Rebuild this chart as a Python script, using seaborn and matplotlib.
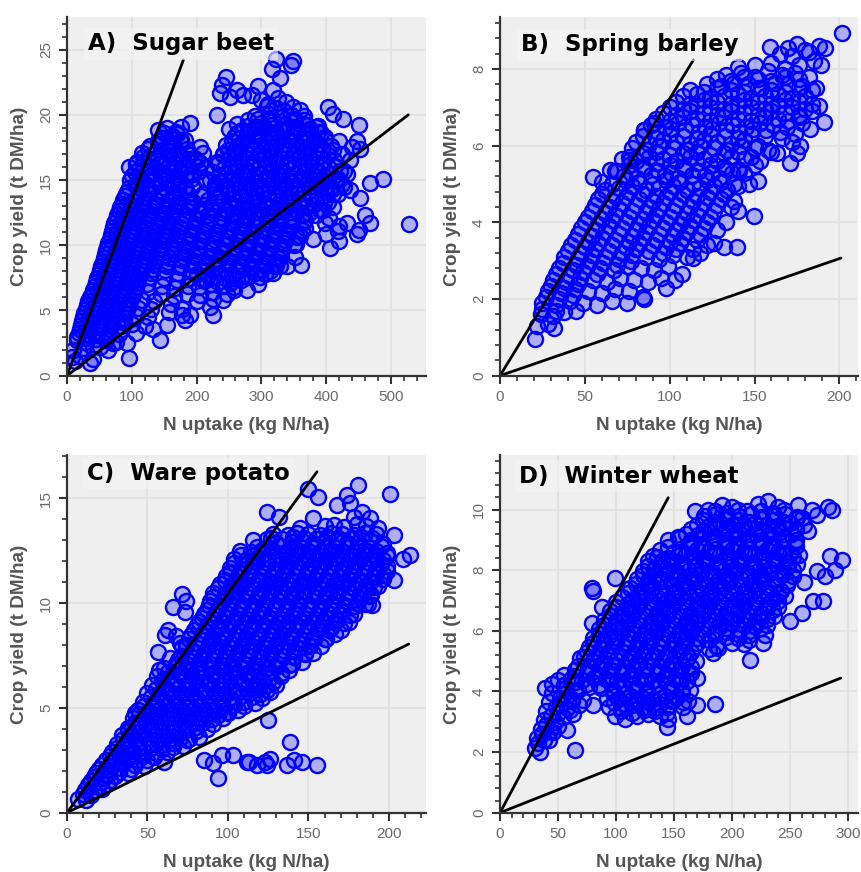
import matplotlib
matplotlib.use("Agg")
import matplotlib.pyplot as plt
import numpy as np
import pandas as pd
import seaborn as sns
from matplotlib.ticker import MultipleLocator

# ---------------- data ----------------
# Each panel: scattered/edge points plus the densely overplotted core of the cloud.
sugar_beet_n = [
    323, 349, 345, 316, 329, 246,
    239, 295, 236, 262, 272, 285, 252, 318,
    300, 325, 338, 310,
    308, 322, 349, 360, 403, 335,
    231, 290, 312, 330, 345, 365, 411, 426,
    190, 176, 262, 280, 300, 318, 336, 352, 370, 385, 450,
    141, 154, 168, 250, 270, 288, 305, 322, 340, 357, 375, 392,
    147, 162, 182, 258, 276, 294, 312, 330, 347, 364, 381, 398, 420, 447,
    128, 143, 158, 176, 205, 245, 263, 281, 299, 317, 335, 353, 371, 389, 408, 440,
    115, 135, 155, 172, 190, 210, 240, 258, 276, 294, 312, 330, 348, 366, 384, 402, 425, 452,
    108, 125, 145, 165, 185, 200, 232, 250, 268, 286, 304, 322, 340, 358, 376, 394, 412, 437,
    96, 118, 136, 156, 176, 195, 215, 242, 260, 278, 296, 314, 332, 350, 368, 386, 404, 428,
    100, 112, 130, 150, 170, 190, 215, 235, 253, 271, 289, 307, 325, 343, 361, 379, 397, 415, 432, 487,
    106, 124, 144, 162, 182, 228, 246, 264, 282, 300, 318, 336, 354, 372, 390, 408, 424, 468,
    92, 110, 128, 146, 164, 184, 210, 238, 256, 274, 292, 310, 328, 346, 364, 382, 400, 418, 437,
    87, 104, 120, 138, 156, 175, 195, 218, 240, 258, 276, 294, 312, 330, 348, 366, 384, 402, 452,
    82, 98, 115, 132, 150, 168, 186, 205, 224, 244, 262, 280, 298, 316, 334, 352, 370, 390, 410,
    77, 93, 110, 127, 145, 163, 182, 200, 218, 238, 256, 274, 292, 310, 328, 346, 364, 385, 404, 460,
    72, 88, 105, 122, 140, 158, 176, 196, 216, 236, 254, 272, 290, 308, 326, 344, 365, 398, 420, 432, 467, 528,
    70, 85, 101, 118, 136, 154, 172, 192, 212, 232, 250, 268, 286, 304, 322, 340, 362, 400, 418, 447, 450,
    66, 82, 98, 115, 132, 150, 168, 188, 208, 228, 246, 264, 282, 300, 318, 336, 355, 380, 419,
    62, 78, 94, 110, 127, 145, 163, 183, 203, 223, 242, 260, 278, 296, 314, 332, 350, 406,
    58, 74, 90, 106, 122, 140, 160, 180, 200, 220, 238, 256, 274, 292, 310, 330, 352,
    55, 70, 86, 102, 118, 136, 156, 176, 196, 214, 232, 250, 268, 286, 304, 322, 340, 361,
    51, 66, 82, 98, 114, 132, 152, 172, 192, 210, 228, 246, 264, 282, 300, 318, 329,
    47, 62, 78, 94, 110, 128, 150, 170, 190, 208, 226, 244, 262, 280, 298, 313,
    43, 58, 74, 90, 106, 124, 146, 166, 186, 204, 222, 240, 258, 277, 294,
    38, 54, 70, 86, 102, 125, 145, 165, 185, 205, 225, 247, 257,
    33, 48, 64, 80, 96, 115, 135, 160, 200, 221, 226, 240,
    29, 44, 60, 76, 92, 110, 130, 158, 178,
    25, 40, 56, 72, 88, 106, 125, 177, 190, 182, 226,
    22, 36, 52, 68, 84, 100, 120, 154, 133,
    18, 32, 48, 64, 80, 107,
    15, 28, 44, 60, 76, 92, 143, 71,
    10, 24, 40, 51, 64,
    8, 20, 40,
    12, 36, 95,
]
sugar_beet_yield = [
    24.3, 24.1, 23.8, 23.5, 22.8, 22.9,
    22.3, 22.2, 21.7, 21.9, 21.5, 21.5, 21.4, 21.9,
    21.1, 21.3, 21.0, 20.8,
    20.7, 20.5, 20.6, 20.4, 20.6, 20.3,
    20.0, 19.9, 20.1, 19.8, 20.0, 19.9, 20.1, 19.7,
    19.4, 19.1, 19.3, 19.6, 19.4, 19.5, 19.3, 19.6, 19.2, 19.1, 19.2,
    18.8, 19.0, 18.7, 18.9, 18.8, 19.0, 18.9, 18.7, 19.0, 18.8, 18.9, 18.6,
    18.2, 18.4, 18.1, 18.3, 18.2, 18.4, 18.3, 18.2, 18.4, 18.3, 18.1, 18.3, 18.0, 18.0,
    17.6, 17.8, 17.7, 17.9, 17.5, 17.7, 17.6, 17.8, 17.7, 17.6, 17.8, 17.7, 17.5, 17.8, 17.6, 17.5,
    17.1, 17.0, 17.2, 17.1, 16.9, 17.1, 17.0, 17.2, 17.1, 17.0, 17.2, 17.1, 17.0, 17.2, 17.1, 16.9, 17.0, 17.4,
    16.4, 16.6, 16.5, 16.4, 16.6, 16.5, 16.4, 16.6, 16.5, 16.4, 16.6, 16.5, 16.4, 16.6, 16.5, 16.3, 16.5, 16.5,
    16.0, 15.8, 15.9, 16.0, 15.8, 15.5, 15.9, 15.9, 16.0, 15.8, 15.9, 16.0, 15.8, 15.9, 16.0, 15.8, 15.9, 15.7,
    15.3, 15.2, 15.4, 15.3, 15.2, 15.4, 15.1, 15.3, 15.2, 15.4, 15.3, 15.2, 15.4, 15.3, 15.2, 15.4, 15.3, 15.1, 15.5, 15.1,
    14.7, 14.6, 14.8, 14.7, 14.5, 14.7, 14.6, 14.8, 14.7, 14.6, 14.8, 14.7, 14.6, 14.8, 14.7, 14.5, 14.7, 14.8,
    14.1, 14.0, 14.2, 14.1, 14.0, 14.2, 13.9, 14.1, 14.0, 14.2, 14.1, 14.0, 14.2, 14.1, 14.0, 14.2, 14.1, 13.9, 14.2,
    13.5, 13.4, 13.6, 13.5, 13.4, 13.6, 13.3, 13.5, 13.4, 13.6, 13.5, 13.4, 13.6, 13.5, 13.4, 13.6, 13.5, 13.3, 13.6,
    12.9, 12.8, 13.0, 12.9, 12.8, 13.0, 12.9, 12.7, 12.9, 12.8, 13.0, 12.9, 12.8, 13.0, 12.9, 12.8, 13.0, 12.7, 12.9,
    12.3, 12.2, 12.4, 12.3, 12.2, 12.4, 12.3, 12.1, 12.3, 12.2, 12.4, 12.3, 12.2, 12.4, 12.3, 12.2, 12.4, 12.3, 12.1, 12.3,
    11.7, 11.6, 11.8, 11.7, 11.6, 11.8, 11.7, 11.5, 11.7, 11.6, 11.8, 11.7, 11.6, 11.8, 11.7, 11.6, 11.8, 11.7, 11.5, 11.7, 11.7, 11.6,
    11.1, 11.0, 11.2, 11.1, 11.0, 11.2, 11.1, 10.9, 11.1, 11.0, 11.2, 11.1, 11.0, 11.2, 11.1, 11.0, 11.2, 10.9, 11.1, 10.9, 11.2,
    10.5, 10.4, 10.6, 10.5, 10.4, 10.6, 10.5, 10.3, 10.5, 10.4, 10.6, 10.5, 10.4, 10.6, 10.5, 10.4, 10.6, 10.5, 10.3,
    9.9, 9.8, 10.0, 9.9, 9.8, 10.0, 9.9, 9.7, 9.9, 9.8, 10.0, 9.9, 9.8, 10.0, 9.9, 9.8, 10.0, 9.8,
    9.3, 9.2, 9.4, 9.3, 9.2, 9.4, 9.3, 9.1, 9.3, 9.2, 9.4, 9.3, 9.2, 9.4, 9.3, 9.1, 9.1,
    8.7, 8.6, 8.8, 8.7, 8.6, 8.8, 8.7, 8.5, 8.7, 8.6, 8.8, 8.7, 8.6, 8.8, 8.7, 8.5, 8.4, 8.5,
    8.1, 8.0, 8.2, 8.1, 8.0, 8.2, 8.1, 7.9, 8.1, 8.0, 8.2, 8.1, 8.0, 8.2, 8.1, 7.9, 8.4,
    7.5, 7.4, 7.6, 7.5, 7.4, 7.6, 7.5, 7.3, 7.5, 7.4, 7.6, 7.5, 7.4, 7.6, 7.6, 8.0,
    6.9, 6.8, 7.0, 6.9, 6.8, 7.0, 6.9, 6.7, 6.9, 6.8, 7.0, 6.9, 6.8, 6.6, 7.0,
    6.3, 6.2, 6.4, 6.3, 6.2, 6.4, 6.3, 6.1, 6.3, 6.2, 6.4, 6.3, 6.6,
    5.7, 5.6, 5.8, 5.7, 5.6, 5.8, 5.7, 5.5, 5.7, 5.3, 5.9, 5.8,
    5.1, 5.0, 5.2, 5.1, 5.0, 5.2, 5.1, 4.9, 5.1,
    4.5, 4.4, 4.6, 4.5, 4.4, 4.6, 4.5, 4.65, 4.65, 4.3, 4.65,
    3.9, 3.8, 4.0, 3.9, 3.8, 4.0, 3.8, 3.9, 3.6,
    3.25, 3.2, 3.4, 3.3, 3.2, 3.25,
    2.7, 2.6, 2.8, 2.7, 2.6, 2.5, 2.7, 2.5,
    2.0, 2.1, 2.2, 2.2, 2.0,
    1.4, 1.5, 1.3,
    1.1, 0.95, 1.33,
]
sugar_beet_core_n = [
    294, 312, 330, 348, 366,
    279, 297, 315, 333, 351, 369, 387,
    150, 170, 262, 280, 298, 316, 334, 352, 370, 388,
    140, 158, 176, 254, 272, 290, 308, 326, 344, 362, 380, 398,
    125, 145, 165, 185, 249, 267, 285, 303, 321, 339, 357, 375, 393, 411,
    118, 138, 158, 178, 196, 241, 259, 277, 295, 313, 331, 349, 367, 385, 403,
    107, 127, 146, 166, 186, 206, 233, 251, 269, 287, 305, 323, 341, 359, 377, 395, 413,
    105, 124, 143, 163, 183, 204, 226, 244, 262, 280, 298, 316, 334, 352, 370, 388, 406, 422,
    97, 115, 134, 153, 172, 192, 220, 238, 256, 274, 292, 310, 328, 346, 364, 382, 400, 418,
    96, 114, 133, 152, 171, 193, 229, 247, 265, 283, 301, 319, 337, 355, 373, 391, 409, 427,
    90, 108, 126, 145, 164, 186, 207, 229, 249, 267, 285, 303, 321, 339, 357, 375, 393, 411,
    85, 101, 118, 136, 154, 172, 191, 212, 233, 253, 271, 289, 307, 325, 343, 361, 379, 397,
    80, 96, 113, 131, 149, 167, 186, 205, 225, 247, 265, 283, 301, 319, 337, 355, 374, 395,
    75, 91, 108, 126, 144, 162, 181, 200, 220, 241, 259, 277, 295, 313, 331, 349, 368,
    71, 87, 104, 121, 139, 157, 175, 195, 215, 236, 255, 273, 291, 309, 327, 345, 368,
    68, 84, 100, 117, 134, 152, 170, 190, 210, 230, 249, 267, 285, 303, 321, 339, 360,
    64, 80, 96, 112, 130, 148, 166, 186, 206, 226, 245, 263, 281, 299, 317, 335, 353,
    60, 76, 92, 108, 125, 143, 162, 182, 202, 222, 241, 259, 277, 295, 313, 331,
    57, 72, 88, 104, 120, 138, 158, 178, 198, 217, 235, 253, 271, 289, 307, 325,
    53, 68, 84, 100, 116, 134, 154, 174, 194, 212, 230, 248, 266, 284, 302, 320,
    49, 64, 80, 96, 112, 130, 200, 218, 236, 254, 272, 290, 306,
    45, 60, 76, 92, 108, 215, 233, 251, 269,
    40, 56, 72, 88, 104,
    36, 51, 67, 83, 99,
    31, 46, 62, 78, 94,
    27, 42, 58, 74, 90,
    23, 38, 54, 70, 86,
    20, 34, 50, 66,
    16, 30, 46, 62,
]
sugar_beet_core_yield = [
    19.7, 19.6, 19.8, 19.7, 19.6,
    19.15, 19.05, 19.25, 19.15, 19.05, 19.25, 19.15,
    18.6, 18.5, 18.6, 18.7, 18.5, 18.6, 18.7, 18.5, 18.6, 18.7,
    18.0, 17.9, 18.1, 18.0, 17.9, 18.1, 18.0, 17.9, 18.1, 18.0, 17.9, 18.1,
    17.4, 17.3, 17.5, 17.4, 17.3, 17.5, 17.4, 17.3, 17.5, 17.4, 17.3, 17.5, 17.4, 17.3,
    16.8, 16.7, 16.9, 16.8, 16.7, 16.9, 16.8, 16.7, 16.9, 16.8, 16.7, 16.9, 16.8, 16.7, 16.9,
    16.2, 16.1, 16.3, 16.2, 16.1, 16.3, 16.2, 16.1, 16.3, 16.2, 16.1, 16.3, 16.2, 16.1, 16.3, 16.2, 16.1,
    15.6, 15.5, 15.7, 15.6, 15.5, 15.7, 15.6, 15.5, 15.7, 15.6, 15.5, 15.7, 15.6, 15.5, 15.7, 15.6, 15.5, 15.7,
    15.0, 14.9, 15.1, 15.0, 14.9, 15.1, 15.0, 14.9, 15.1, 15.0, 14.9, 15.1, 15.0, 14.9, 15.1, 15.0, 14.9, 15.1,
    14.4, 14.3, 14.5, 14.4, 14.3, 14.5, 14.4, 14.3, 14.5, 14.4, 14.3, 14.5, 14.4, 14.3, 14.5, 14.4, 14.3, 14.5,
    13.8, 13.7, 13.9, 13.8, 13.7, 13.9, 13.8, 13.7, 13.9, 13.8, 13.7, 13.9, 13.8, 13.7, 13.9, 13.8, 13.7, 13.9,
    13.2, 13.1, 13.3, 13.2, 13.1, 13.3, 13.2, 13.1, 13.3, 13.2, 13.1, 13.3, 13.2, 13.1, 13.3, 13.2, 13.1, 13.3,
    12.6, 12.5, 12.7, 12.6, 12.5, 12.7, 12.6, 12.5, 12.7, 12.6, 12.5, 12.7, 12.6, 12.5, 12.7, 12.6, 12.5, 12.7,
    12.0, 11.9, 12.1, 12.0, 11.9, 12.1, 12.0, 11.9, 12.1, 12.0, 11.9, 12.1, 12.0, 11.9, 12.1, 12.0, 11.9,
    11.4, 11.3, 11.5, 11.4, 11.3, 11.5, 11.4, 11.3, 11.5, 11.4, 11.3, 11.5, 11.4, 11.3, 11.5, 11.4, 11.3,
    10.8, 10.7, 10.9, 10.8, 10.7, 10.9, 10.8, 10.7, 10.9, 10.8, 10.7, 10.9, 10.8, 10.7, 10.9, 10.8, 10.7,
    10.2, 10.1, 10.3, 10.2, 10.1, 10.3, 10.2, 10.1, 10.3, 10.2, 10.1, 10.3, 10.2, 10.1, 10.3, 10.2, 10.1,
    9.6, 9.5, 9.7, 9.6, 9.5, 9.7, 9.6, 9.5, 9.7, 9.6, 9.5, 9.7, 9.6, 9.5, 9.7, 9.6,
    9.0, 8.9, 9.1, 9.0, 8.9, 9.1, 9.0, 8.9, 9.1, 9.0, 8.9, 9.1, 9.0, 8.9, 9.1, 9.0,
    8.4, 8.3, 8.5, 8.4, 8.3, 8.5, 8.4, 8.3, 8.5, 8.4, 8.3, 8.5, 8.4, 8.3, 8.5, 8.4,
    7.8, 7.7, 7.9, 7.8, 7.7, 7.9, 7.8, 7.7, 7.9, 7.8, 7.7, 7.9, 7.8,
    7.2, 7.1, 7.3, 7.2, 7.1, 7.3, 7.2, 7.1, 7.3,
    6.6, 6.5, 6.7, 6.6, 6.5,
    6.0, 5.9, 6.1, 6.0, 5.9,
    5.4, 5.3, 5.5, 5.4, 5.3,
    4.8, 4.7, 4.9, 4.8, 4.7,
    4.2, 4.1, 4.3, 4.2, 4.1,
    3.6, 3.5, 3.7, 3.6,
    3.0, 2.9, 3.1, 3.0,
]

spring_barley_n = [
    201.6,
    159, 170, 175, 180, 188, 191.7,
    165, 172, 182, 189,
    140, 150, 160, 168, 176, 185,
    133, 142, 150, 158, 166, 174, 182,
    122, 130, 138, 146, 154, 162, 170, 178, 186,
    108, 116, 124, 132, 140, 148, 156, 164, 172, 180,
    100, 108, 116, 124, 132, 140, 148, 156, 164, 172, 180, 188,
    92, 100, 108, 116, 124, 132, 140, 148, 156, 164, 170, 176, 190.8,
    85, 93, 101, 109, 117, 125, 133, 141, 149, 157, 165, 174, 183,
    80, 88, 96, 104, 112, 120, 128, 136, 144, 152, 160, 172, 177,
    76, 84, 92, 100, 108, 116, 124, 132, 140, 148, 163, 175,
    68, 76, 84, 92, 100, 108, 116, 124, 132, 140, 150, 153, 171,
    55, 65, 73, 81, 89, 97, 105, 113, 121, 129, 137, 144, 152,
    62, 70, 78, 86, 94, 102, 110, 118, 126, 134, 140, 147,
    58, 66, 74, 82, 90, 98, 106, 114, 122, 130, 138, 140,
    54, 62, 70, 78, 86, 94, 102, 110, 118, 126, 133, 149.5,
    50, 58, 66, 74, 82, 90, 98, 106, 114, 122, 128,
    46, 54, 62, 70, 78, 86, 94, 102, 110, 118, 126,
    42, 50, 58, 66, 74, 82, 90, 98, 106, 114, 122, 131.8, 139.6,
    38, 46, 54, 62, 70, 78, 86, 94, 102, 110, 114, 118,
    35, 43, 51, 59, 67, 75, 83, 91, 99, 107,
    31, 39, 47, 55, 63, 71, 79, 87, 95, 103,
    28, 36, 44, 52, 60, 68, 76, 84, 98,
    25, 33, 41, 49, 57, 66, 75, 84.6,
    24, 31, 38, 45,
    22, 28, 32,
    20.6,
    76.7, 84.6, 90.5,
]
spring_barley_yield = [
    8.94,
    8.59, 8.55, 8.65, 8.5, 8.6, 8.55,
    8.4, 8.35, 8.45, 8.11,
    8.05, 8.1, 8.15, 8.0, 8.1, 8.2,
    7.85, 7.9, 7.8, 7.95, 7.85, 7.9, 7.8,
    7.6, 7.55, 7.65, 7.6, 7.5, 7.65, 7.6, 7.55, 7.5,
    7.3, 7.35, 7.25, 7.3, 7.35, 7.25, 7.3, 7.35, 7.25, 7.3,
    7.0, 6.95, 7.05, 7.0, 6.95, 7.05, 7.0, 6.95, 7.05, 7.0, 6.95, 7.05,
    6.7, 6.65, 6.75, 6.7, 6.65, 6.75, 6.7, 6.65, 6.75, 6.7, 6.65, 6.75, 6.63,
    6.4, 6.35, 6.45, 6.4, 6.35, 6.45, 6.4, 6.35, 6.45, 6.4, 6.35, 6.3, 6.45,
    6.1, 6.05, 6.15, 6.1, 6.05, 6.15, 6.1, 6.05, 6.15, 6.0, 5.85, 6.1, 6.0,
    5.7, 5.8, 5.85, 5.75, 5.8, 5.85, 5.75, 5.8, 5.85, 5.7, 5.8, 5.8,
    5.35, 5.5, 5.45, 5.55, 5.5, 5.45, 5.55, 5.5, 5.45, 5.4, 5.5, 5.6, 5.54,
    5.19, 5.37, 5.2, 5.15, 5.25, 5.2, 5.15, 5.25, 5.2, 5.15, 5.3, 5.3, 5.07,
    4.85, 4.9, 4.95, 4.85, 4.9, 4.95, 4.85, 4.9, 4.95, 4.85, 4.95, 5.0,
    4.6, 4.55, 4.65, 4.6, 4.55, 4.65, 4.6, 4.55, 4.65, 4.6, 4.55, 4.3,
    4.3, 4.25, 4.35, 4.3, 4.25, 4.35, 4.3, 4.25, 4.35, 4.3, 4.0, 4.17,
    4.0, 3.95, 4.05, 4.0, 3.95, 4.05, 4.0, 3.95, 4.05, 4.0, 3.8,
    3.7, 3.65, 3.75, 3.7, 3.65, 3.75, 3.7, 3.65, 3.75, 3.7, 3.45,
    3.4, 3.35, 3.45, 3.4, 3.35, 3.45, 3.4, 3.35, 3.45, 3.3, 3.4, 3.37, 3.37,
    3.1, 3.05, 3.15, 3.1, 3.05, 3.15, 3.1, 3.05, 3.15, 3.1, 3.06, 3.2,
    2.8, 2.75, 2.85, 2.8, 2.75, 2.85, 2.8, 2.75, 2.85, 2.65,
    2.5, 2.45, 2.55, 2.5, 2.45, 2.55, 2.5, 2.45, 2.55, 2.5,
    2.2, 2.15, 2.25, 2.2, 2.15, 2.25, 2.2, 2.05, 2.28,
    1.9, 1.85, 1.95, 1.9, 1.85, 1.95, 1.9, 2.0,
    1.6, 1.55, 1.65, 1.7,
    1.3, 1.35, 1.25,
    0.97,
    5.63, 6.41, 6.6,
]
spring_barley_core_n = [
    128, 136, 144, 152, 160, 168, 176,
    112, 120, 128, 136, 144, 152, 160, 168, 176, 184,
    104, 112, 120, 128, 136, 144, 152, 160, 168, 176, 184,
    96, 104, 112, 120, 128, 136, 144, 152, 160, 168, 176, 184,
    89, 97, 105, 113, 121, 129, 137, 145, 153, 161, 169, 178,
    84, 92, 100, 108, 116, 124, 132, 140, 148, 156, 166,
    78, 86, 94, 102, 110, 118, 126, 134, 142, 150, 158,
    72, 80, 88, 96, 104, 112, 120, 128, 136, 144,
    69, 77, 85, 93, 101, 109, 117, 125, 133, 141,
    60, 66, 74, 82, 90, 98, 106, 114, 122, 130, 138,
    60, 68, 76, 84, 92, 100, 108, 116, 124, 132,
    56, 64, 72, 80, 88, 96, 104, 112, 120, 128, 136,
    52, 60, 68, 76, 84, 92, 100, 108, 116, 124,
    48, 56, 64, 72, 80, 88, 96, 104, 112, 120,
    44, 52, 60, 68, 76, 84, 92, 100, 108, 116,
    40, 48, 56, 64, 72, 80, 88, 96, 104,
    37, 45, 53, 61, 69, 77,
    33, 41, 49, 57,
    30, 38, 46,
    27, 35, 43,
    25, 33,
]
spring_barley_core_yield = [
    7.75, 7.7, 7.8, 7.75, 7.7, 7.8, 7.75,
    7.45, 7.4, 7.5, 7.45, 7.4, 7.5, 7.45, 7.4, 7.5, 7.45,
    7.15, 7.1, 7.2, 7.15, 7.1, 7.2, 7.15, 7.1, 7.2, 7.15, 7.1,
    6.85, 6.8, 6.9, 6.85, 6.8, 6.9, 6.85, 6.8, 6.9, 6.85, 6.8, 6.9,
    6.55, 6.5, 6.6, 6.55, 6.5, 6.6, 6.55, 6.5, 6.6, 6.55, 6.5, 6.6,
    6.25, 6.2, 6.3, 6.25, 6.2, 6.3, 6.25, 6.2, 6.3, 6.25, 6.2,
    5.95, 5.9, 6.0, 5.95, 5.9, 6.0, 5.95, 5.9, 6.0, 5.95, 5.9,
    5.65, 5.6, 5.7, 5.65, 5.6, 5.7, 5.65, 5.6, 5.7, 5.65,
    5.35, 5.3, 5.4, 5.35, 5.3, 5.4, 5.35, 5.3, 5.4, 5.35,
    5.05, 5.0, 5.1, 5.05, 5.0, 5.1, 5.05, 5.0, 5.1, 5.05, 5.0,
    4.75, 4.7, 4.8, 4.75, 4.7, 4.8, 4.75, 4.7, 4.8, 4.75,
    4.45, 4.4, 4.5, 4.45, 4.4, 4.5, 4.45, 4.4, 4.5, 4.45, 4.4,
    4.15, 4.1, 4.2, 4.15, 4.1, 4.2, 4.15, 4.1, 4.2, 4.15,
    3.85, 3.8, 3.9, 3.85, 3.8, 3.9, 3.85, 3.8, 3.9, 3.85,
    3.55, 3.5, 3.6, 3.55, 3.5, 3.6, 3.55, 3.5, 3.6, 3.55,
    3.25, 3.2, 3.3, 3.25, 3.2, 3.3, 3.25, 3.2, 3.3,
    2.95, 2.9, 3.0, 2.95, 2.9, 3.0,
    2.65, 2.6, 2.7, 2.65,
    2.35, 2.3, 2.4,
    2.05, 2.0, 2.1,
    1.75, 1.7,
]

ware_potato_n = [
    181, 150, 174, 200.8, 156, 168, 176, 124, 183, 131.4, 153, 188.4, 178,
    145, 160, 166, 172, 180, 186, 193,
    128, 137, 143, 150, 157, 164, 171, 178, 185, 192, 203,
    115.8, 124, 130, 140, 146, 153, 160, 167, 174, 181, 188, 196,
    107.5, 114, 121, 128, 136, 143, 150, 157, 164, 171, 178, 185, 192, 199, 213,
    104, 111, 118, 125, 133, 140, 147, 154, 161, 168, 175, 182, 189, 196, 209,
    101.3, 108, 115, 122, 129, 136, 143, 150, 157, 164, 171, 178, 185, 192, 199,
    99, 106, 113, 120, 127, 134, 141, 148, 155, 162, 169, 176, 183, 190, 197, 203,
    95, 102, 109, 116, 123, 130, 137, 144, 151, 158, 165, 172, 179, 186, 193,
    71.3, 91, 98, 105, 112, 119, 126, 133, 140, 147, 154, 161, 168, 175, 182, 189,
    74, 89, 96, 103, 110, 117, 124, 131, 138, 145, 152, 159, 166, 173, 180, 187,
    66, 73.4, 87, 94, 101, 108, 115, 122, 129, 136, 143, 150, 157, 164, 171, 178, 189.4,
    84, 91, 98, 105, 112, 119, 126, 133, 140, 147, 154, 161, 168, 175,
    63, 80.6, 87, 94, 101, 108, 115, 122, 129, 136, 143, 150, 157, 164, 170,
    61, 68, 77, 84, 91, 98, 105, 112, 119, 126, 133, 140, 147, 154, 161, 166.6,
    70, 74, 81, 88, 95, 102, 109, 116, 123, 130, 137, 144, 151, 158,
    56.8, 64, 71.3, 78, 85, 92, 99, 106, 113, 120, 127, 134, 141, 148, 153,
    69, 76, 83, 90, 97, 104, 111, 118, 125, 132, 139.7, 146,
    57, 60, 67, 74, 81, 88, 95, 102, 109, 116, 123, 130, 138,
    56, 63, 70, 77, 84, 91, 98, 105, 112, 119, 126, 133,
    53, 60, 67, 74, 81, 88, 95, 102, 109, 116, 123, 130,
    50, 57, 64, 71, 78, 85, 92, 99, 106, 113, 120, 126,
    47, 54, 61, 68, 75, 82, 89, 96, 103, 110, 117,
    44, 51, 58, 65, 72, 79, 86, 93, 100.3, 106,
    42.3, 41, 48, 55, 62, 69, 76, 83, 90, 97, 125,
    40.2, 38, 45, 52, 59, 66, 73, 80, 87,
    34, 41, 48, 55, 62, 69, 74.4, 82,
    31, 38, 45, 52, 59, 66, 72,
    28, 34, 41, 48, 55, 62,
    24, 30, 37, 44, 49.5, 60,
    84.8, 91, 94, 96, 103.4, 111.7, 117.9, 123, 126, 124, 136.6, 138.6, 140.7, 146, 155, 113,
    20, 26, 33, 40,
    17, 23, 30,
    13, 19, 25,
    10, 15,
    7, 12,
]
ware_potato_yield = [
    15.63, 15.47, 15.15, 15.23, 15.07, 14.67, 14.8, 14.36, 14.36, 14.12, 14.04, 14.04, 14.1,
    13.6, 13.7, 13.75, 13.65, 13.8, 13.7, 13.6,
    13.3, 13.25, 13.35, 13.3, 13.25, 13.35, 13.3, 13.25, 13.35, 13.3, 13.24,
    13.0, 13.08, 12.85, 12.9, 12.95, 12.85, 12.9, 12.95, 12.85, 12.9, 12.95, 12.8,
    12.5, 12.45, 12.55, 12.5, 12.45, 12.55, 12.5, 12.45, 12.55, 12.5, 12.45, 12.55, 12.5, 12.4, 12.29,
    12.1, 12.05, 12.15, 12.1, 12.05, 12.15, 12.1, 12.05, 12.15, 12.1, 12.05, 12.15, 12.1, 12.05, 12.13,
    11.7, 11.65, 11.75, 11.7, 11.65, 11.75, 11.7, 11.65, 11.75, 11.7, 11.65, 11.75, 11.7, 11.65, 11.75,
    11.3, 11.25, 11.35, 11.3, 11.25, 11.35, 11.3, 11.25, 11.35, 11.3, 11.25, 11.35, 11.3, 11.25, 11.35, 11.1,
    10.9, 10.85, 10.95, 10.9, 10.85, 10.95, 10.9, 10.85, 10.95, 10.9, 10.85, 10.95, 10.9, 10.85, 10.8,
    10.46, 10.5, 10.45, 10.55, 10.5, 10.45, 10.55, 10.5, 10.45, 10.55, 10.5, 10.45, 10.55, 10.5, 10.45, 10.4,
    10.1, 10.1, 10.05, 10.15, 10.1, 10.05, 10.15, 10.1, 10.05, 10.15, 10.1, 10.05, 10.15, 10.1, 10.0, 9.95,
    9.83, 9.59, 9.67, 9.7, 9.65, 9.75, 9.7, 9.65, 9.75, 9.7, 9.65, 9.75, 9.7, 9.65, 9.6, 9.5, 9.9,
    9.3, 9.25, 9.35, 9.3, 9.25, 9.35, 9.3, 9.25, 9.35, 9.3, 9.25, 9.3, 9.2, 9.1,
    8.7, 8.95, 8.9, 8.85, 8.95, 8.9, 8.85, 8.95, 8.9, 8.85, 8.95, 8.9, 8.85, 8.8, 8.7,
    8.5, 8.45, 8.5, 8.55, 8.5, 8.45, 8.55, 8.5, 8.45, 8.55, 8.5, 8.45, 8.5, 8.4, 8.3, 8.55,
    8.1, 8.0, 8.1, 8.05, 8.15, 8.1, 8.05, 8.15, 8.1, 8.05, 8.15, 8.1, 8.0, 7.95,
    7.68, 7.36, 7.9, 7.7, 7.65, 7.75, 7.7, 7.65, 7.75, 7.7, 7.65, 7.75, 7.7, 7.6, 7.6,
    7.3, 7.25, 7.35, 7.3, 7.25, 7.35, 7.3, 7.25, 7.35, 7.3, 7.12, 7.2,
    6.8, 6.9, 6.95, 6.9, 6.85, 6.95, 6.9, 6.85, 6.95, 6.9, 6.85, 6.95, 6.8,
    6.5, 6.45, 6.55, 6.5, 6.45, 6.55, 6.5, 6.45, 6.55, 6.5, 6.45, 6.5,
    6.1, 6.05, 6.15, 6.1, 6.05, 6.15, 6.1, 6.05, 6.15, 6.1, 6.05, 6.1,
    5.7, 5.65, 5.75, 5.7, 5.65, 5.75, 5.7, 5.65, 5.75, 5.7, 5.65, 5.77,
    5.3, 5.25, 5.35, 5.3, 5.25, 5.35, 5.3, 5.25, 5.35, 5.3, 5.25,
    4.9, 4.85, 4.95, 4.9, 4.85, 4.95, 4.9, 4.85, 4.8, 4.9,
    4.74, 4.5, 4.45, 4.55, 4.5, 4.45, 4.55, 4.5, 4.45, 4.5, 4.42,
    4.1, 4.05, 4.1, 4.15, 4.1, 4.05, 4.15, 4.1, 4.0,
    3.7, 3.65, 3.75, 3.7, 3.65, 3.75, 3.47, 3.6,
    3.3, 3.25, 3.35, 3.3, 3.25, 3.35, 3.2,
    2.9, 2.85, 2.95, 2.9, 2.85, 2.9,
    2.5, 2.45, 2.55, 2.5, 2.5, 2.43,
    2.51, 2.35, 1.64, 2.75, 2.75, 2.43, 2.27, 2.43, 2.54, 2.27, 2.27, 3.39, 2.51, 2.43, 2.27, 2.4,
    2.1, 2.05, 2.15, 2.1,
    1.7, 1.65, 1.75,
    1.3, 1.25, 1.35,
    0.9, 0.85,
    0.65, 0.6,
]
ware_potato_core_n = [
    126.5, 133.5, 140.5, 147.5, 154.5, 161.5, 168.5, 175.5, 182.5, 189.5,
    118, 125, 132, 139, 146, 153, 160, 167, 174, 181, 188, 195,
    108, 115, 122, 129, 136, 143, 150, 157, 164, 171, 178, 185, 192, 199,
    104, 111, 118, 125, 132, 139, 146, 153, 160, 167, 174, 181, 188, 195,
    101, 108, 115, 122, 129, 136, 143, 150, 157, 164, 171, 178, 185, 192, 199,
    98, 105, 112, 119, 126, 133, 140, 147, 154, 161, 168, 175, 182, 189, 196,
    94, 101, 108, 115, 122, 129, 136, 143, 150, 157, 164, 171, 178, 185, 191,
    91, 98, 105, 112, 119, 126, 133, 140, 147, 154, 161, 168, 175, 182, 188,
    88, 95, 102, 109, 116, 123, 130, 137, 144, 151, 158, 165, 172, 179, 185,
    85, 92, 99, 106, 113, 120, 127, 134, 141, 148, 155, 162, 169, 176,
    82, 89, 96, 103, 110, 117, 124, 131, 138, 145, 152, 159, 166, 172,
    79, 86, 93, 100, 107, 114, 121, 128, 135, 142, 149, 156, 163,
    76, 83, 90, 97, 104, 111, 118, 125, 132, 139, 146, 153, 160,
    74, 81, 88, 95, 102, 109, 116, 123, 130, 137, 144, 151,
    71, 78, 85, 92, 99, 106, 113, 120, 127, 134, 141, 148,
    68, 75, 82, 89, 96, 103, 110, 117, 124, 131, 138,
    63, 70, 77, 84, 91, 98, 105, 112, 119, 126, 133,
    59, 66, 73, 80, 87, 94, 101, 108, 115, 122, 128,
    55, 62, 69, 76, 83, 90, 97, 104, 111, 118, 124,
    52, 59, 66, 73, 80, 87, 94, 101, 108, 115, 121,
    48, 55, 62, 69, 76, 83, 90, 97, 104, 110,
    45, 52, 59, 66, 73, 80, 87, 94, 100,
    42, 49, 56, 63, 70, 77, 84, 91,
    38, 45, 52, 59, 66, 73, 80,
    35, 42, 49, 56, 63, 70, 76,
    31, 38, 45, 52, 59, 66,
    27, 33, 40, 47, 54,
    22, 28, 35, 42, 48,
    18, 25, 32, 38,
    15, 21, 27,
    11, 17, 22,
]
ware_potato_core_yield = [
    13.1, 13.05, 13.15, 13.1, 13.05, 13.15, 13.1, 13.05, 13.15, 13.1,
    12.7, 12.65, 12.75, 12.7, 12.65, 12.75, 12.7, 12.65, 12.75, 12.7, 12.65, 12.75,
    12.3, 12.25, 12.35, 12.3, 12.25, 12.35, 12.3, 12.25, 12.35, 12.3, 12.25, 12.35, 12.3, 12.25,
    11.9, 11.85, 11.95, 11.9, 11.85, 11.95, 11.9, 11.85, 11.95, 11.9, 11.85, 11.95, 11.9, 11.85,
    11.5, 11.45, 11.55, 11.5, 11.45, 11.55, 11.5, 11.45, 11.55, 11.5, 11.45, 11.55, 11.5, 11.45, 11.55,
    11.1, 11.05, 11.15, 11.1, 11.05, 11.15, 11.1, 11.05, 11.15, 11.1, 11.05, 11.15, 11.1, 11.05, 11.15,
    10.7, 10.65, 10.75, 10.7, 10.65, 10.75, 10.7, 10.65, 10.75, 10.7, 10.65, 10.75, 10.7, 10.65, 10.75,
    10.3, 10.25, 10.35, 10.3, 10.25, 10.35, 10.3, 10.25, 10.35, 10.3, 10.25, 10.35, 10.3, 10.25, 10.35,
    9.9, 9.85, 9.95, 9.9, 9.85, 9.95, 9.9, 9.85, 9.95, 9.9, 9.85, 9.95, 9.9, 9.85, 9.95,
    9.5, 9.45, 9.55, 9.5, 9.45, 9.55, 9.5, 9.45, 9.55, 9.5, 9.45, 9.55, 9.5, 9.45,
    9.1, 9.05, 9.15, 9.1, 9.05, 9.15, 9.1, 9.05, 9.15, 9.1, 9.05, 9.15, 9.1, 9.05,
    8.7, 8.65, 8.75, 8.7, 8.65, 8.75, 8.7, 8.65, 8.75, 8.7, 8.65, 8.75, 8.7,
    8.3, 8.25, 8.35, 8.3, 8.25, 8.35, 8.3, 8.25, 8.35, 8.3, 8.25, 8.35, 8.3,
    7.9, 7.85, 7.95, 7.9, 7.85, 7.95, 7.9, 7.85, 7.95, 7.9, 7.85, 7.95,
    7.5, 7.45, 7.55, 7.5, 7.45, 7.55, 7.5, 7.45, 7.55, 7.5, 7.45, 7.55,
    7.1, 7.05, 7.15, 7.1, 7.05, 7.15, 7.1, 7.05, 7.15, 7.1, 7.05,
    6.7, 6.65, 6.75, 6.7, 6.65, 6.75, 6.7, 6.65, 6.75, 6.7, 6.65,
    6.3, 6.25, 6.35, 6.3, 6.25, 6.35, 6.3, 6.25, 6.35, 6.3, 6.25,
    5.9, 5.85, 5.95, 5.9, 5.85, 5.95, 5.9, 5.85, 5.95, 5.9, 5.85,
    5.5, 5.45, 5.55, 5.5, 5.45, 5.55, 5.5, 5.45, 5.55, 5.5, 5.45,
    5.1, 5.05, 5.15, 5.1, 5.05, 5.15, 5.1, 5.05, 5.15, 5.1,
    4.7, 4.65, 4.75, 4.7, 4.65, 4.75, 4.7, 4.65, 4.75,
    4.3, 4.25, 4.35, 4.3, 4.25, 4.35, 4.3, 4.25,
    3.9, 3.85, 3.95, 3.9, 3.85, 3.95, 3.9,
    3.5, 3.45, 3.55, 3.5, 3.45, 3.55, 3.5,
    3.1, 3.05, 3.15, 3.1, 3.05, 3.15,
    2.7, 2.65, 2.75, 2.7, 2.65,
    2.3, 2.25, 2.35, 2.3, 2.25,
    1.9, 1.85, 1.95, 1.9,
    1.5, 1.45, 1.55,
    1.1, 1.05, 1.15,
]

winter_wheat_n = [
    231, 191, 240, 257, 283, 168, 179.6, 212.6, 269, 286, 200, 222,
    176, 186, 196, 206, 216, 226, 236, 246, 256, 273, 260,
    170, 180, 190, 200, 210, 220, 230, 240, 250, 262,
    160, 171, 181, 191, 201, 211, 221, 231, 241, 251, 265.8,
    145, 153.7, 164, 174, 184, 194, 204, 214, 224, 234, 244, 254,
    132, 138, 150, 160, 170, 180, 190, 200, 210, 220, 230, 240, 250, 258,
    128, 140, 148, 158, 168, 178, 188, 198, 208, 218, 228, 238, 248, 256, 284.5, 294.5, 289,
    123.6, 133, 143, 153, 163, 173, 183, 193, 203, 213, 223, 233, 243, 253, 273, 280,
    99, 118, 128, 138, 148, 158, 168, 178, 188, 198, 208, 218, 228, 238, 248, 262,
    112, 122, 132, 142, 152, 162, 172, 182, 192, 202, 212, 222, 232, 242, 80.5, 79,
    105, 115, 125, 135, 145, 155, 165, 175, 185, 195, 205, 215, 225, 235, 245.7, 270, 278.7,
    87.6, 100, 110, 120, 130, 140, 150, 160, 170, 180, 190, 200, 210, 220, 230, 240,
    95, 105, 115, 125, 135, 145, 155, 165, 175, 185, 195, 205, 215, 225, 236, 260,
    79, 90, 100, 110, 120, 130, 140, 150, 160, 170, 180, 190, 200, 210, 220, 230, 250,
    85, 95, 105, 115, 125, 135, 145, 155, 165, 175, 185, 195, 205, 215, 228.4,
    80, 90, 100, 110, 120, 130, 140, 150, 160, 170, 186, 200, 210, 227,
    75, 85, 95, 105, 115, 125, 135, 145, 155, 165, 184, 188,
    69, 80, 90, 100, 110, 120, 130, 140, 150, 160, 169, 215.5,
    65, 75, 85, 95, 105, 115, 125, 135, 145, 155, 165, 169.5,
    50.3, 61, 70.4, 81, 91, 101, 111, 121, 131, 141, 151, 161,
    38.8, 57, 67, 77, 87, 97, 107, 117, 127, 137, 147, 157, 163.8,
    52, 62, 71.8, 92, 102, 112, 122, 132, 142, 152, 162,
    48, 58, 68, 80.5, 94, 104, 114, 124, 134, 144, 158, 169.5, 185,
    44, 54, 63, 99, 108, 118, 128, 138, 145, 160.9,
    40, 50, 143.7,
    36, 46, 57.5,
    33, 42,
    30.2, 34.5, 64.7,
]
winter_wheat_yield = [
    10.28, 10.16, 10.1, 10.16, 10.1, 9.95, 10.0, 9.95, 10.0, 10.0, 10.1, 10.2,
    9.8, 9.85, 9.75, 9.8, 9.85, 9.75, 9.8, 9.85, 9.75, 9.83, 9.72,
    9.5, 9.45, 9.55, 9.5, 9.45, 9.55, 9.5, 9.45, 9.55, 9.5,
    9.2, 9.15, 9.25, 9.2, 9.15, 9.25, 9.2, 9.15, 9.25, 9.2, 9.28,
    9.0, 9.1, 8.9, 8.85, 8.95, 8.9, 8.85, 8.95, 8.9, 8.85, 8.95, 8.9,
    8.46, 8.68, 8.6, 8.55, 8.65, 8.6, 8.55, 8.65, 8.6, 8.55, 8.65, 8.6, 8.55, 8.5,
    8.3, 8.3, 8.35, 8.25, 8.3, 8.35, 8.25, 8.3, 8.35, 8.25, 8.3, 8.35, 8.25, 8.2, 8.46, 8.35, 8.02,
    7.96, 8.0, 8.05, 7.95, 8.0, 8.05, 7.95, 8.0, 8.05, 7.95, 8.0, 8.05, 7.95, 8.0, 7.96, 7.8,
    7.74, 7.7, 7.65, 7.75, 7.7, 7.65, 7.75, 7.7, 7.65, 7.75, 7.7, 7.65, 7.75, 7.7, 7.65, 7.6,
    7.4, 7.35, 7.45, 7.4, 7.35, 7.45, 7.4, 7.35, 7.45, 7.4, 7.35, 7.45, 7.4, 7.3, 7.3, 7.4,
    7.1, 7.05, 7.15, 7.1, 7.05, 7.15, 7.1, 7.05, 7.15, 7.1, 7.05, 7.15, 7.1, 7.05, 7.14, 6.97, 6.97,
    6.8, 6.8, 6.75, 6.85, 6.8, 6.75, 6.85, 6.8, 6.75, 6.85, 6.8, 6.75, 6.85, 6.8, 6.75, 6.8,
    6.5, 6.45, 6.55, 6.5, 6.45, 6.55, 6.5, 6.45, 6.55, 6.5, 6.45, 6.55, 6.5, 6.45, 6.5, 6.59,
    6.26, 6.2, 6.15, 6.25, 6.2, 6.15, 6.25, 6.2, 6.15, 6.25, 6.2, 6.15, 6.25, 6.2, 6.15, 6.2, 6.31,
    5.9, 5.85, 5.95, 5.9, 5.85, 5.95, 5.9, 5.85, 5.95, 5.9, 5.85, 5.95, 5.9, 5.85, 5.87,
    5.6, 5.55, 5.65, 5.6, 5.55, 5.65, 5.6, 5.55, 5.65, 5.6, 5.5, 5.6, 5.55, 5.6,
    5.3, 5.25, 5.35, 5.3, 5.25, 5.35, 5.3, 5.25, 5.35, 5.3, 5.26, 5.43,
    5.1, 5.0, 4.95, 5.05, 5.0, 4.95, 5.05, 5.0, 4.95, 5.05, 5.0, 5.04,
    4.7, 4.65, 4.75, 4.7, 4.65, 4.75, 4.7, 4.65, 4.75, 4.7, 4.6, 4.44,
    4.38, 4.4, 4.38, 4.45, 4.4, 4.35, 4.45, 4.4, 4.35, 4.45, 4.4, 4.35,
    4.1, 4.1, 4.05, 4.15, 4.1, 4.05, 4.15, 4.1, 4.05, 4.15, 4.1, 4.05, 4.05,
    3.8, 3.75, 3.72, 3.8, 3.75, 3.85, 3.8, 3.75, 3.85, 3.8, 3.7,
    3.5, 3.45, 3.55, 3.56, 3.5, 3.45, 3.55, 3.5, 3.45, 3.5, 3.5, 3.56, 3.6,
    3.2, 3.15, 3.25, 3.2, 3.1, 3.2, 3.25, 3.2, 3.1, 3.2,
    2.9, 2.85, 2.84,
    2.6, 2.65, 2.73,
    2.3, 2.4,
    2.13, 2.0, 2.07,
]
winter_wheat_core_n = [
    185, 195, 205, 225, 235, 245,
    175, 185, 195, 205, 215, 225, 235, 245, 255,
    165, 175, 185, 195, 205, 215, 225, 235, 245, 255,
    155, 165, 175, 185, 195, 205, 215, 225, 235, 245, 255,
    145, 155, 165, 175, 185, 195, 205, 215, 225, 235, 245, 255,
    135, 145, 155, 165, 175, 185, 195, 205, 215, 225, 235, 245, 253,
    128, 138, 148, 158, 168, 178, 188, 198, 208, 218, 228, 238, 248,
    123, 133, 143, 153, 163, 173, 183, 193, 203, 213, 223, 233, 243, 253,
    117, 127, 137, 147, 157, 167, 177, 187, 197, 207, 217, 227, 237, 247,
    110, 120, 130, 140, 150, 160, 170, 180, 190, 200, 210, 220, 230, 240,
    100, 110, 120, 130, 140, 150, 160, 170, 180, 190, 200, 210, 220, 230, 240,
    95, 105, 115, 125, 135, 145, 155, 165, 175, 185, 195, 205, 215, 225, 235,
    90, 100, 110, 120, 130, 140, 150, 160, 170, 180, 190, 200, 210, 220, 230,
    85, 95, 105, 115, 125, 135, 145, 155, 165, 175, 185, 195, 205, 215, 225,
    80, 90, 100, 110, 120, 130, 140, 150, 160, 170, 180, 195, 205, 215,
    77, 87, 97, 107, 117, 127, 137, 147, 157, 167, 180,
    72, 82, 92, 102, 112, 122, 132, 142, 152, 162,
    67, 77, 87, 97, 107, 117, 127, 137, 147, 157, 165,
    55, 65, 75, 85, 95, 105, 115, 125, 135, 145, 155, 163,
    45, 55, 65, 75, 85, 95, 105, 115, 125, 135, 145, 155,
    45, 55, 65, 97, 107, 117, 127, 137, 147, 157,
    42, 52, 62, 98, 108, 118, 128, 138, 148, 158,
    40, 50, 60, 104, 114, 124, 134, 144,
    38, 47,
    35, 43,
    32, 38,
]
winter_wheat_core_yield = [
    9.95, 9.9, 10.0, 9.95, 9.9, 10.0,
    9.65, 9.6, 9.7, 9.65, 9.6, 9.7, 9.65, 9.6, 9.7,
    9.35, 9.3, 9.4, 9.35, 9.3, 9.4, 9.35, 9.3, 9.4, 9.35,
    9.05, 9.0, 9.1, 9.05, 9.0, 9.1, 9.05, 9.0, 9.1, 9.05, 9.0,
    8.75, 8.7, 8.8, 8.75, 8.7, 8.8, 8.75, 8.7, 8.8, 8.75, 8.7, 8.8,
    8.45, 8.4, 8.5, 8.45, 8.4, 8.5, 8.45, 8.4, 8.5, 8.45, 8.4, 8.5, 8.45,
    8.15, 8.1, 8.2, 8.15, 8.1, 8.2, 8.15, 8.1, 8.2, 8.15, 8.1, 8.2, 8.15,
    7.85, 7.8, 7.9, 7.85, 7.8, 7.9, 7.85, 7.8, 7.9, 7.85, 7.8, 7.9, 7.85, 7.8,
    7.55, 7.5, 7.6, 7.55, 7.5, 7.6, 7.55, 7.5, 7.6, 7.55, 7.5, 7.6, 7.55, 7.5,
    7.25, 7.2, 7.3, 7.25, 7.2, 7.3, 7.25, 7.2, 7.3, 7.25, 7.2, 7.3, 7.25, 7.2,
    6.95, 6.9, 7.0, 6.95, 6.9, 7.0, 6.95, 6.9, 7.0, 6.95, 6.9, 7.0, 6.95, 6.9, 7.0,
    6.65, 6.6, 6.7, 6.65, 6.6, 6.7, 6.65, 6.6, 6.7, 6.65, 6.6, 6.7, 6.65, 6.6, 6.7,
    6.35, 6.3, 6.4, 6.35, 6.3, 6.4, 6.35, 6.3, 6.4, 6.35, 6.3, 6.4, 6.35, 6.3, 6.4,
    6.05, 6.0, 6.1, 6.05, 6.0, 6.1, 6.05, 6.0, 6.1, 6.05, 6.0, 6.1, 6.05, 6.0, 6.1,
    5.75, 5.7, 5.8, 5.75, 5.7, 5.8, 5.75, 5.7, 5.8, 5.75, 5.7, 5.8, 5.75, 5.7,
    5.45, 5.4, 5.5, 5.45, 5.4, 5.5, 5.45, 5.4, 5.5, 5.45, 5.4,
    5.15, 5.1, 5.2, 5.15, 5.1, 5.2, 5.15, 5.1, 5.2, 5.15,
    4.85, 4.8, 4.9, 4.85, 4.8, 4.9, 4.85, 4.8, 4.9, 4.85, 4.8,
    4.55, 4.5, 4.6, 4.55, 4.5, 4.6, 4.55, 4.5, 4.6, 4.55, 4.5, 4.6,
    4.25, 4.2, 4.3, 4.25, 4.2, 4.3, 4.25, 4.2, 4.3, 4.25, 4.2, 4.3,
    3.95, 3.9, 4.0, 3.95, 3.9, 4.0, 3.95, 3.9, 4.0, 3.95,
    3.65, 3.6, 3.7, 3.65, 3.6, 3.7, 3.65, 3.6, 3.7, 3.65,
    3.35, 3.3, 3.4, 3.35, 3.3, 3.4, 3.35, 3.3,
    3.05, 3.0,
    2.75, 2.7,
    2.45, 2.4,
]

# reference lines from the origin: end points (N uptake, yield)
upper_line_n = [179.5, 114.0, 155.3, 145.0]
upper_line_yield = [24.2, 8.24, 16.27, 10.39]
lower_line_n = [526.7, 201.0, 212.3, 293.7]
lower_line_yield = [20.0, 3.07, 8.05, 4.44]

panel_titles = ["A)  Sugar beet", "B)  Spring barley", "C)  Ware potato", "D)  Winter wheat"]
x_label = "N uptake (kg N/ha)"
y_label = "Crop yield (t DM/ha)"

# ---------------- style ----------------
sns.set_theme(style="whitegrid", rc={
    "axes.facecolor": "#efefef",
    "grid.color": "#e0e0e0",
    "grid.linewidth": 1.2,
    "axes.edgecolor": "#333333",
})
plt.rcParams["font.family"] = ["Liberation Sans", "DejaVu Sans"]

W, H = 861, 872
fig = plt.figure(figsize=(W / 100, H / 100), dpi=100)
fig.patch.set_facecolor("white")

panels = [
    dict(n=sugar_beet_n + sugar_beet_core_n, y=sugar_beet_yield + sugar_beet_core_yield,
         box=(67, 17, 426, 375.7), xlim=554, ylim=27.5, xmaj=100, xmin=20, ymaj=5, ymin=1,
         title_pos=(0.058, 0.925)),
    dict(n=spring_barley_n + spring_barley_core_n, y=spring_barley_yield + spring_barley_core_yield,
         box=(500, 17, 858, 375.7), xlim=211, ylim=9.36, xmaj=50, xmin=10, ymaj=2, ymin=0.4,
         title_pos=(0.058, 0.922)),
    dict(n=ware_potato_n + ware_potato_core_n, y=ware_potato_yield + ware_potato_core_yield,
         box=(67, 455, 426, 812.7), xlim=223, ylim=17.07, xmaj=50, xmin=10, ymaj=5, ymin=1,
         title_pos=(0.057, 0.949)),
    dict(n=winter_wheat_n + winter_wheat_core_n, y=winter_wheat_yield + winter_wheat_core_yield,
         box=(500, 455, 858, 812.7), xlim=308.6, ylim=11.8, xmaj=50, xmin=10, ymaj=2, ymin=0.4,
         title_pos=(0.054, 0.941)),
]

for i, p in enumerate(panels):
    l, t, r, b = p["box"]
    ax = fig.add_axes([l / W, 1 - b / H, (r - l) / W, (b - t) / H])
    df = pd.DataFrame({"n_uptake": p["n"], "crop_yield": p["y"]})
    sns.scatterplot(data=df, x="n_uptake", y="crop_yield", ax=ax, s=118,
                    color=(0.0, 0.0, 1.0, 0.27), edgecolor=(0.0, 0.0, 1.0, 1.0),
                    linewidth=1.7, legend=False, zorder=3)
    ax.plot([0, upper_line_n[i]], [0, upper_line_yield[i]], color="black", lw=2.0, zorder=4)
    ax.plot([0, lower_line_n[i]], [0, lower_line_yield[i]], color="black", lw=2.0, zorder=4)

    ax.set_xlim(0, p["xlim"])
    ax.set_ylim(0, p["ylim"])
    ax.xaxis.set_major_locator(MultipleLocator(p["xmaj"]))
    ax.xaxis.set_minor_locator(MultipleLocator(p["xmin"]))
    ax.yaxis.set_major_locator(MultipleLocator(p["ymaj"]))
    ax.yaxis.set_minor_locator(MultipleLocator(p["ymin"]))

    for s in ["top", "right"]:
        ax.spines[s].set_visible(False)
    for s in ["left", "bottom"]:
        ax.spines[s].set_color("#333333")
        ax.spines[s].set_linewidth(1.6)
        ax.spines[s].set_zorder(6)

    ax.tick_params(which="major", direction="out", length=6, width=1.5, color="#333333",
                   labelsize=11, labelcolor="#6a6a6a", pad=4, bottom=True, left=True)
    ax.tick_params(which="minor", direction="out", length=3.5, width=1.2, color="#333333",
                   bottom=True, left=True)
    ax.tick_params(axis="y", labelrotation=90)
    for lab in ax.get_yticklabels():
        lab.set_va("center")
    ax.grid(True, which="major")
    ax.grid(False, which="minor")
    ax.set_axisbelow(True)

    ax.set_xlabel(x_label, fontsize=13.7, fontweight="bold", color="#555555", labelpad=10)
    ax.set_ylabel(y_label, fontsize=13.7, fontweight="bold", color="#555555", labelpad=8)

    tx, ty = p["title_pos"]
    ax.text(tx, ty, panel_titles[i], transform=ax.transAxes, fontsize=16.5,
            fontweight="bold", family="DejaVu Sans", color="black", ha="left", va="center",
            zorder=7, bbox=dict(facecolor="#f5f5f5", edgecolor="none", alpha=0.6, pad=3))

fig.savefig("out.png", dpi=100, facecolor="white")
